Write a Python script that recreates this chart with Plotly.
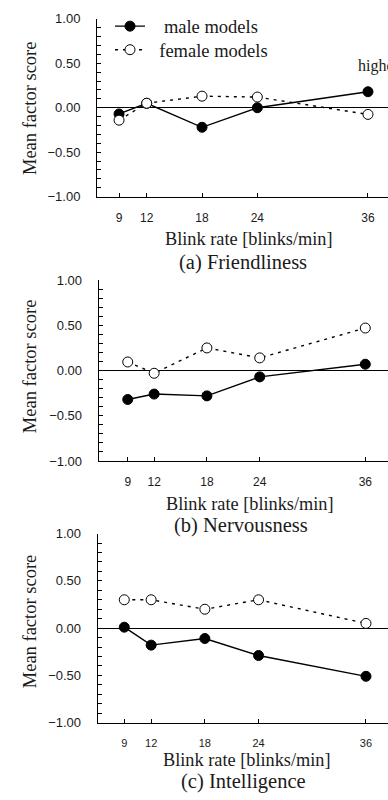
import plotly.graph_objects as go

blink_rates = [9, 12, 18, 24, 36]
tick_labels = ["9", "12", "18", "24", "36"]

friend_male = [-0.07, 0.05, -0.22, 0.00, 0.18]
friend_female = [-0.14, 0.05, 0.13, 0.12, -0.075]

nerv_male = [-0.32, -0.26, -0.28, -0.07, 0.07]
nerv_female = [0.095, -0.03, 0.25, 0.14, 0.47]

intel_male = [0.01, -0.18, -0.11, -0.29, -0.51]
intel_female = [0.30, 0.30, 0.20, 0.30, 0.05]

panels = [
    ("(a) Friendliness", friend_male, friend_female),
    ("(b) Nervousness", nerv_male, nerv_female),
    ("(c) Intelligence", intel_male, intel_female),
]

W, H = 388, 800
SERIF = "Liberation Serif, Times New Roman, serif"
SANS = "Liberation Sans, Arial, sans-serif"
INK = "#1a1a1a"

geo = [
    dict(xl=97, yt=12, yb=193.3, xr=[6.61, 38.17], tf=12, xty=236, ty=260, xtc=249, tc=243, ytc=103),
    dict(xl=98.7, yt=278.3, yb=462.7, xr=[5.70, 38.58], tf=12, xty=506, ty=528, xtc=250, tc=241, ytc=366),
    dict(xl=97.7, yt=536.7, yb=729.3, xr=[6.03, 38.46], tf=11, xty=767, ty=789, xtc=247, tc=243, ytc=626),
]

NB = "\u00a0"

fig = go.Figure()
annotations = []
for i, ((title, male, female), g) in enumerate(zip(panels, geo)):
    n = "" if i == 0 else str(i + 1)
    xa = "x" + n
    ya = "y" + n
    fig.add_trace(go.Scatter(
        x=blink_rates, y=male, mode="lines+markers", name=NB * 3 + "male models",
        line=dict(color="black", width=1.4),
        marker=dict(symbol="circle", size=10, color="black", line=dict(color="black", width=1)),
        xaxis=xa, yaxis=ya, showlegend=(i == 0), legend="legend", cliponaxis=False,
    ))
    fig.add_trace(go.Scatter(
        x=blink_rates, y=female, mode="lines+markers", name=NB * 2 + "female models",
        line=dict(color="black", width=1.4, dash="3px,5px"),
        marker=dict(symbol="circle", size=10, color="white", line=dict(color="black", width=1)),
        xaxis=xa, yaxis=ya, showlegend=(i == 0), legend="legend2", cliponaxis=False,
    ))
    xdom = [g["xl"] / W, 1.0]
    ydom = [1 - g["yb"] / H, 1 - g["yt"] / H]
    fig.layout["xaxis" + n] = dict(
        domain=xdom, range=g["xr"], anchor=ya, tickvals=blink_rates, ticktext=tick_labels,
        ticks="inside", ticklen=4, tickcolor="black", showline=True, linecolor="black",
        linewidth=1, showgrid=False, zeroline=False, ticklabelstandoff=10,
        tickfont=dict(family=SANS, size=g["tf"], color=INK),
    )
    fig.layout["yaxis" + n] = dict(
        domain=ydom, range=[-1, 1], anchor=xa, tickvals=[-1, -0.5, 0, 0.5, 1],
        tickformat=".2f", ticks="inside", ticklen=4, tickcolor="black",
        minor=dict(dtick=0.1, ticks="inside", ticklen=4, tickcolor="black", showgrid=False),
        showline=True, linecolor="black", linewidth=1, showgrid=False,
        zeroline=True, zerolinecolor="black", zerolinewidth=1, ticklabelstandoff=13,
        tickfont=dict(family=SANS, size=13, color=INK),
    )
    annotations.append(dict(
        text="Mean factor score", x=30 / W, y=1 - g["ytc"] / H, xref="paper", yref="paper",
        textangle=-90, showarrow=False, font=dict(family=SERIF, size=18.5, color=INK),
        xanchor="center", yanchor="middle",
    ))
    annotations.append(dict(
        text="Blink rate [blinks/min]", x=g["xtc"] / W, y=1 - g["xty"] / H, xref="paper", yref="paper",
        showarrow=False, font=dict(family=SERIF, size=18.3, color=INK),
        xanchor="center", yanchor="middle",
    ))
    annotations.append(dict(
        text=title, x=g["tc"] / W, y=1 - g["ty"] / H, xref="paper", yref="paper",
        showarrow=False, font=dict(family=SERIF, size=20.5, color=INK),
        xanchor="center", yanchor="middle",
    ))

annotations.append(dict(
    text="higher", x=356 / W, y=1 - 60 / H, xref="paper", yref="paper", showarrow=False,
    font=dict(family=SERIF, size=16, color=INK), xanchor="left", yanchor="middle",
))

leg_common = dict(xanchor="left", yanchor="middle", bgcolor="rgba(0,0,0,0)",
                  font=dict(family=SERIF, size=18.5, color=INK), itemwidth=30)

fig.update_layout(
    width=W, height=H, margin=dict(l=0, r=0, t=0, b=0),
    paper_bgcolor="white", plot_bgcolor="white",
    annotations=annotations,
    legend=dict(x=110 / W, y=1 - 20 / H, **leg_common),
    legend2=dict(x=110 / W, y=1 - 44 / H, **leg_common),
)

fig.write_html(
    "out.html",
    config={"displayModeBar": False},
    post_script="document.body.style.margin='0';document.body.style.overflow='hidden';",
)
